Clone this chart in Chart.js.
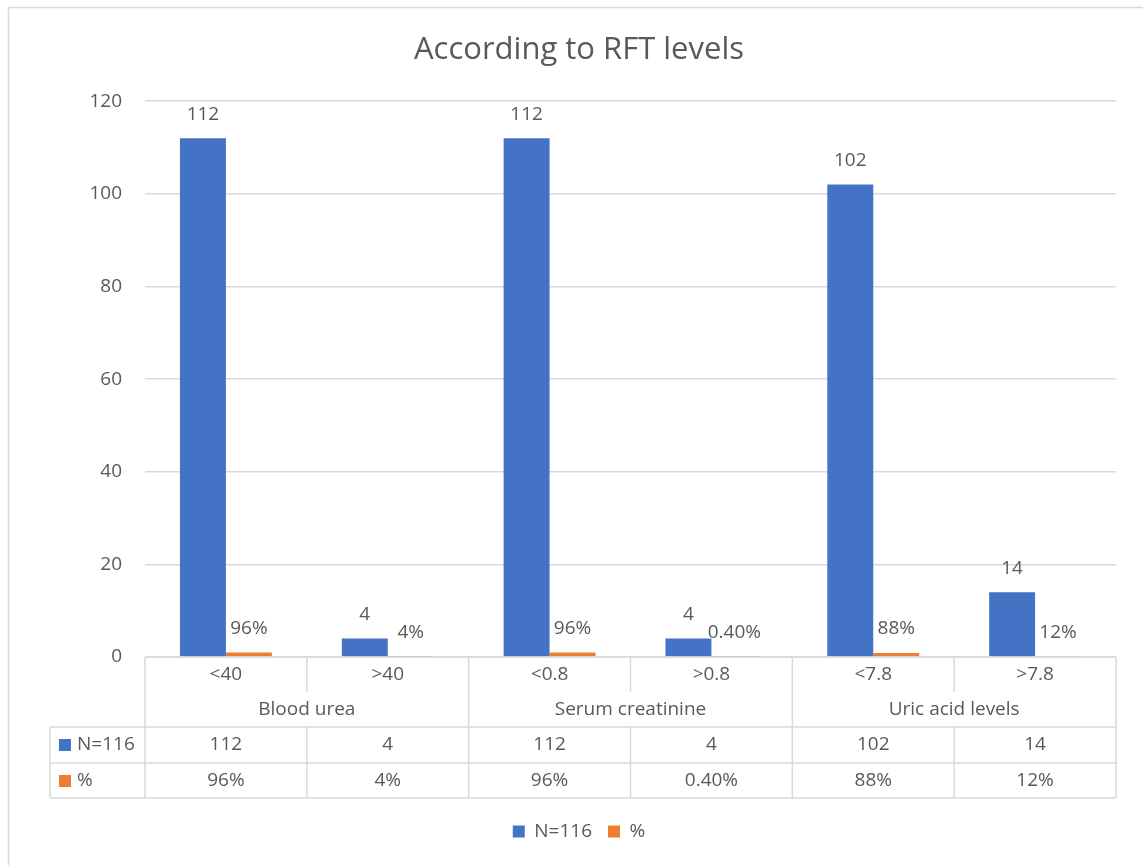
<!DOCTYPE html>
<html>
<head>
<meta charset="utf-8">
<script src="https://cdn.jsdelivr.net/npm/chart.js@4.4.0/dist/chart.umd.min.js"></script>
<style>
  html, body { margin: 0; padding: 0; background: #fff; }
  #wrap { width: 1143px; height: 865px; }
</style>
</head>
<body>
<div id="wrap"><canvas id="c" width="1143" height="865"></canvas></div>
<script>
// Sub-categories (one column each) and the parameter groups they belong to
const categories = ["<40", ">40", "<0.8", ">0.8", "<7.8", ">7.8"];
const groups = ["Blood urea", "Serum creatinine", "Uric acid levels"];
const groupSizes = [2, 2, 2];

// Series
const seriesNames = ["N=116", "%"];
const countValues = [112, 4, 112, 4, 102, 14];
const percentLabels = ["96%", "4%", "96%", "0.40%", "88%", "12%"];
const percentValues = percentLabels.map(s => parseFloat(s) / 100);

// Value axis
const yMin = 0, yMax = 120, yStep = 20;

const FONT = "'Open Sans', 'Noto Sans', sans-serif";
const TEXT = "#595959";
const LINE = "#d9d9d9";
const BLUE = "#4472C4";
const ORANGE = "#ED7D31";

// White card; only its top and left edges fall inside the canvas
const framePlugin = {
  id: "frame",
  beforeDraw(chart) {
    const ctx = chart.ctx;
    ctx.save();
    ctx.fillStyle = "#fff";
    ctx.fillRect(0, 0, chart.width, chart.height);
    ctx.strokeStyle = LINE;
    ctx.lineWidth = 1.5;
    ctx.beginPath();
    ctx.moveTo(8.5, chart.height);
    ctx.lineTo(8.5, 7.5);
    ctx.lineTo(chart.width, 7.5);
    ctx.stroke();
    ctx.restore();
  }
};

// Value labels above every bar
const valueLabels = {
  id: "valueLabels",
  afterDatasetsDraw(chart) {
    const ctx = chart.ctx;
    ctx.save();
    ctx.font = "19px " + FONT;
    ctx.fillStyle = TEXT;
    ctx.textAlign = "center";
    ctx.textBaseline = "middle";
    chart.data.datasets.forEach((ds, di) => {
      const meta = chart.getDatasetMeta(di);
      meta.data.forEach((bar, i) => {
        const txt = di === 0 ? String(countValues[i]) : percentLabels[i];
        ctx.fillText(txt, bar.x, bar.y - 24);
      });
    });
    ctx.restore();
  }
};

// Data table under the plot: category row, group row, one row per series
const dataTable = {
  id: "dataTable",
  afterDraw(chart) {
    const ctx = chart.ctx;
    const xs = chart.scales.x;
    const area = chart.chartArea;
    const step = xs.getPixelForValue(1) - xs.getPixelForValue(0);
    const left = area.left, right = area.right;
    const r0 = area.bottom, r1 = r0 + 35, r2 = r0 + 70, r3 = r0 + 106, r4 = r0 + 141;
    const labelLeft = 50;
    const edge = i => xs.getPixelForValue(i) - step / 2;

    ctx.save();
    ctx.strokeStyle = LINE;
    ctx.lineWidth = 1.5;
    const line = (x1, y1, x2, y2) => {
      ctx.beginPath(); ctx.moveTo(x1, y1); ctx.lineTo(x2, y2); ctx.stroke();
    };
    line(left, r0, right, r0);
    line(labelLeft, r2, right, r2);
    line(labelLeft, r3, right, r3);
    line(labelLeft, r4, right, r4);
    line(labelLeft, r2, labelLeft, r4);
    line(left, r0, left, r4);

    // group boundaries run the full height, inner ones skip the group row
    let idx = 0;
    const groupStarts = [];
    groupSizes.forEach(n => {
      groupStarts.push(idx);
      for (let k = 1; k < n; k++) {
        const x = edge(idx + k);
        line(x, r0, x, r1);
        line(x, r2, x, r4);
      }
      idx += n;
      line(edge(idx), r0, edge(idx), r4);
    });

    ctx.font = "19px " + FONT;
    ctx.fillStyle = TEXT;
    ctx.textAlign = "center";
    ctx.textBaseline = "middle";
    categories.forEach((c, i) => {
      const x = xs.getPixelForValue(i);
      ctx.fillText(c, x, r0 + 18);
      ctx.fillText(String(countValues[i]), x, r2 + 18);
      ctx.fillText(percentLabels[i], x, r3 + 18);
    });
    groups.forEach((g, gi) => {
      const a = edge(groupStarts[gi]);
      const b = edge(groupStarts[gi] + groupSizes[gi]);
      ctx.fillText(g, (a + b) / 2, r1 + 18);
    });

    // series keys in the first column
    const keys = [[BLUE, seriesNames[0], r2], [ORANGE, seriesNames[1], r3]];
    ctx.textAlign = "left";
    keys.forEach(([col, name, top]) => {
      ctx.fillStyle = col;
      ctx.fillRect(59, top + 12, 12, 12);
      ctx.fillStyle = TEXT;
      ctx.fillText(name, 77, top + 18);
    });
    ctx.restore();
  }
};

new Chart(document.getElementById("c"), {
  type: "bar",
  data: {
    labels: categories,
    datasets: [
      { label: seriesNames[0], data: countValues, backgroundColor: BLUE },
      { label: seriesNames[1], data: percentValues, backgroundColor: ORANGE }
    ]
  },
  options: {
    responsive: false,
    animation: false,
    layout: { padding: { left: 42, right: 27, top: 0, bottom: 14 } },
    datasets: { bar: { barPercentage: 1, categoryPercentage: 0.568 } },
    scales: {
      x: {
        grid: { display: false },
        border: { display: false },
        ticks: { display: false },
        afterFit(s) { s.height = 149; }
      },
      y: {
        min: yMin, max: yMax,
        ticks: { stepSize: yStep, padding: 23, color: TEXT, font: { family: FONT, size: 19 } },
        grid: { color: LINE, lineWidth: 1.5, drawTicks: false },
        border: { display: false },
        afterFit(s) { s.width = 103; }
      }
    },
    plugins: {
      title: {
        display: true,
        text: "According to RFT levels",
        color: TEXT,
        font: { family: FONT, size: 31, weight: "normal" },
        padding: { top: 32, bottom: 32 }
      },
      legend: {
        position: "bottom",
        labels: {
          boxWidth: 12, boxHeight: 12, padding: 16,
          color: TEXT, font: { family: FONT, size: 19 }
        }
      },
      tooltip: { enabled: false }
    }
  },
  plugins: [framePlugin, valueLabels, dataTable]
});
</script>
</body>
</html>
